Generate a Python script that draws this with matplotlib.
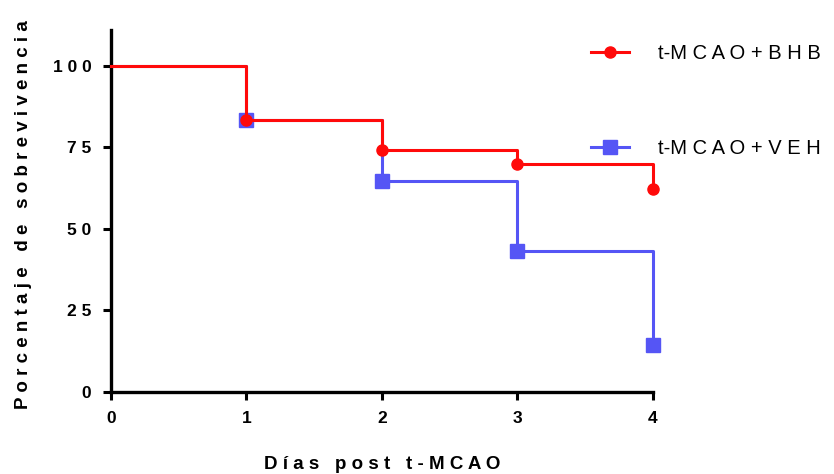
import numpy as np
import matplotlib.pyplot as plt

plt.rcParams['font.family'] = ['Liberation Sans', 'DejaVu Sans']

# Kaplan-Meier survival curves
dias = [0, 1, 2, 3, 4]
bhb = [100, 83.3, 74.1, 70.0, 62.3]
veh = [100, 83.3, 64.8, 43.2, 14.4]

xticks = [0, 1, 2, 3, 4]
yticks = [0, 25, 50, 75, 100]

red = '#ff0a0a'
blue = '#5555f5'


def spaced(s):
    return ' '.join(s)


fig = plt.figure(figsize=(8.34, 4.74), dpi=100)
ax = fig.add_axes([0.133, 0.173, 0.650, 0.764])

# VEH first so BHB sits on top
ax.step(dias, veh, where='post', color=blue, lw=2.2, zorder=2)
ax.plot(dias[1:], veh[1:], 's', color=blue, ms=10.5, zorder=3)
ax.step(dias, bhb, where='post', color=red, lw=2.2, zorder=4)
ax.plot(dias[1:], bhb[1:], 'o', color=red, ms=8, zorder=5)
for ln in ax.lines:
    ln.set_clip_on(False)

ax.set_xlim(0, 4)
ax.set_ylim(0, 111)
ax.set_xticks(xticks)
ax.set_yticks(yticks)
ax.set_xticklabels([str(t) for t in xticks], fontweight='bold', fontsize=12.5)
ax.set_yticklabels([spaced(str(t)) for t in yticks], fontweight='bold', fontsize=12.5)
ax.tick_params(direction='out', length=6, width=2.2, pad=8)

for side in ['top', 'right']:
    ax.spines[side].set_visible(False)
for side in ['left', 'bottom']:
    ax.spines[side].set_linewidth(2.4)
ax.spines['left'].set_bounds(0, 111)

ax.set_xlabel('D í a s   p o s t   t - M C A O', fontweight='bold', fontsize=13.5)
ax.xaxis.set_label_coords(0.5, -0.178)
ax.set_ylabel('P o r c e n t a j e   d e   s o b r e v i v e n c i a', fontweight='bold',
              fontsize=13.5)
ax.yaxis.set_label_coords(-0.146, 0.49)

# legend, drawn by hand to keep the wide spacing
h1, = ax.plot([], [], '-o', color=red, lw=2.2, ms=8)
h2, = ax.plot([], [], '-s', color=blue, lw=2.2, ms=10.5)
fig.legend([h1, h2], [spaced('t-MCAO+BHB').replace('t - M', 't-M'),
                      spaced('t-MCAO+VEH').replace('t - M', 't-M')],
           loc='upper left', bbox_to_anchor=(0.687, 0.945), frameon=False,
           fontsize=14.5, labelspacing=3.75, handlelength=1.9, handletextpad=1.4)

fig.savefig('out.png', dpi=100)
